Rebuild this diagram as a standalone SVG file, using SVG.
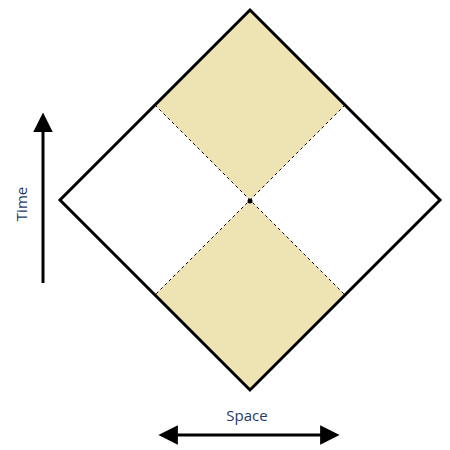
<svg xmlns="http://www.w3.org/2000/svg" width="450" height="450" viewBox="0 0 450 450">
<style>
.shade{fill:#EEE3B2;stroke:none}
.dash{stroke:#000;stroke-width:1;stroke-dasharray:3,3;fill:none}
.outline{fill:none;stroke:#000;stroke-width:3;stroke-linejoin:miter}
.axis{stroke:#000;stroke-width:3;fill:none}
.lbl{font-family:"Open Sans","Liberation Sans",sans-serif;font-size:15px;fill:#1F3864}
</style>
<defs>
<marker id="ah" viewBox="0 0 10 10" refX="2" refY="5" markerWidth="6.5" markerHeight="6.5" markerUnits="strokeWidth" orient="auto-start-reverse">
<path d="M0,0 L10,5 L0,10 Z" fill="#000"/>
</marker>
</defs>
<rect width="450" height="450" fill="#fff"/>
<g id="future-cone">
<polygon class="shade" points="250,10 345,105 250,200 155,105"/>
</g>
<g id="past-cone">
<polygon class="shade" points="250,200 345,295 250,390 155,295"/>
</g>
<g id="connectors">
<line class="dash" x1="155" y1="105" x2="345" y2="295"/>
<line class="dash" x1="345" y1="105" x2="155" y2="295"/>
<line class="axis" x1="43" y1="283" x2="43" y2="128" marker-end="url(#ah)"/>
<line class="axis" x1="174" y1="435" x2="324" y2="435" marker-start="url(#ah)" marker-end="url(#ah)"/>
</g>
<g id="spacetime">
<polygon class="outline" points="250,10 440,200 250,390 60,200"/>
</g>
<g id="event">
<circle cx="250" cy="201" r="2.5" fill="#000"/>
</g>
<g id="time-label">
<text class="lbl" transform="translate(27,204) rotate(-90)" text-anchor="middle">Time</text>
</g>
<g id="space-label">
<text class="lbl" x="247" y="421" text-anchor="middle">Space</text>
</g>
</svg>
